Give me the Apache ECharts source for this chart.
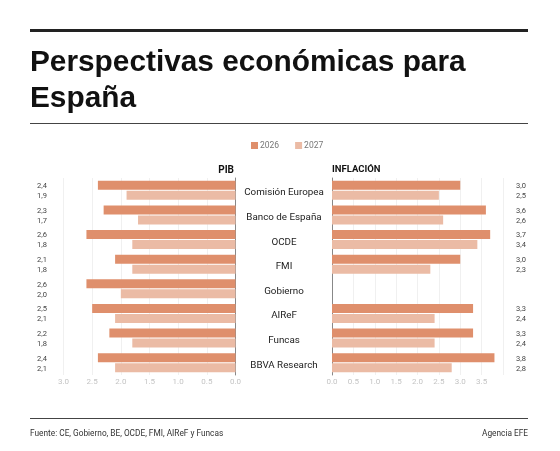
<!DOCTYPE html>
<html>
<head>
<meta charset="utf-8">
<style>html,body{margin:0;padding:0;background:#fff}</style>
<script src="https://cdn.jsdelivr.net/npm/echarts@6/dist/echarts.min.js"></script>
</head>
<body>
<div id="chart" style="width:560px;height:451px"></div>
<script>
var organismos = ['Comisión Europea', 'Banco de España', 'OCDE', 'FMI', 'Gobierno', 'AIReF', 'Funcas', 'BBVA Research'];
var pib2026 = [2.4, 2.3, 2.6, 2.1, 2.6, 2.5, 2.2, 2.4];
var pib2027 = [1.9, 1.7, 1.8, 1.8, 2.0, 2.1, 1.8, 2.1];
var inflacion2026 = [3.0, 3.6, 3.7, 3.0, null, 3.3, 3.3, 3.8];
var inflacion2027 = [2.5, 2.6, 3.4, 2.3, null, 2.4, 2.4, 2.8];

var NARROW = 'Roboto, "Liberation Sans", sans-serif';
var color2026 = '#df8f6c';
var color2027 = '#ebbba5';

function barSerie(name, data, color, ejeX, ejeY, xEtiqueta) {
    return {
        name: name,
        type: 'bar',
        xAxisIndex: ejeX,
        yAxisIndex: ejeY,
        data: data,
        barWidth: 9,
        barGap: '11%',
        itemStyle: { color: color },
        silent: true,
        label: {
            show: true,
            position: 'inside',
            color: '#444',
            fontFamily: NARROW,
            fontSize: 7.5,
            formatter: function (p) { return p.value.toFixed(1).replace('.', ','); }
        },
        labelLayout: { x: xEtiqueta, dy: -3, align: 'center' }
    };
}

function ejeValor(grid, max, inverso) {
    return {
        type: 'value',
        gridIndex: grid,
        min: 0,
        max: max,
        interval: 0.5,
        inverse: inverso,
        axisLine: { show: false },
        axisTick: { show: false },
        splitLine: { lineStyle: { color: '#f0f0f0', width: 1 } },
        axisLabel: {
            color: '#c4c4c4',
            fontFamily: NARROW,
            fontSize: 8,
            margin: 3,
            showMaxLabel: max === 3,
            formatter: function (v) { return v.toFixed(1); }
        }
    };
}

var option = {
    animation: false,
    backgroundColor: '#fff',
    title: [
        { text: 'Perspectivas económicas para\nEspaña', left: 25, top: 40, textStyle: { fontFamily: '"Liberation Sans"', fontWeight: 'bold', fontSize: 29.8, lineHeight: 36, color: '#111' } },
        { text: 'PIB', right: 321, top: 160, textStyle: { fontFamily: NARROW, fontWeight: 'bold', fontSize: 10, color: '#111' } },
        { text: 'INFLACIÓN', left: 327, top: 160, textStyle: { fontFamily: NARROW, fontWeight: 'bold', fontSize: 9.5, color: '#111' } },
        { text: 'Fuente: CE, Gobierno, BE, OCDE, FMI, AIReF y Funcas', left: 25, top: 425, textStyle: { fontFamily: NARROW, fontWeight: 'normal', fontSize: 8.3, color: '#333' } },
        { text: 'Agencia EFE', right: 27, top: 425, textStyle: { fontFamily: NARROW, fontWeight: 'normal', fontSize: 8.3, color: '#333' } }
    ],
    legend: {
        data: ['2026', '2027'],
        icon: 'rect',
        left: 246,
        top: 136,
        itemWidth: 7,
        itemHeight: 7,
        itemGap: 16,
        selectedMode: false,
        textStyle: { fontFamily: NARROW, fontSize: 8.5, color: '#777', padding: [0, 0, 0, -3] }
    },
    graphic: [
        { type: 'rect', shape: { x: 30, y: 29, width: 498, height: 3 }, style: { fill: '#222' } },
        { type: 'rect', shape: { x: 30, y: 123, width: 498, height: 1 }, style: { fill: '#444' } },
        { type: 'rect', shape: { x: 30, y: 418, width: 498, height: 1 }, style: { fill: '#444' } }
    ],
    grid: [
        { left: 63.5, top: 178, width: 172, height: 197 },
        { left: 332, top: 178, width: 171, height: 197 }
    ],
    xAxis: [ejeValor(0, 3, true), ejeValor(1, 4, false)],
    yAxis: [
        {
            type: 'category',
            gridIndex: 0,
            position: 'right',
            inverse: true,
            data: organismos,
            axisLine: { lineStyle: { color: '#888' } },
            axisTick: { show: false },
            axisLabel: { color: '#222', fontFamily: NARROW, fontSize: 9.8, margin: 48.5, align: 'center', verticalAlign: 'top', lineHeight: 5 }
        },
        {
            type: 'category',
            gridIndex: 1,
            inverse: true,
            data: organismos,
            axisLine: { lineStyle: { color: '#888' } },
            axisTick: { show: false },
            axisLabel: { show: false }
        }
    ],
    series: [
        barSerie('2026', pib2026, color2026, 0, 0, 42),
        barSerie('2027', pib2027, color2027, 0, 0, 42),
        barSerie('2026', inflacion2026, color2026, 1, 1, 521),
        barSerie('2027', inflacion2027, color2027, 1, 1, 521)
    ]
};

var chart = echarts.init(document.getElementById('chart'));
chart.setOption(option, true);
</script>
</body>
</html>
